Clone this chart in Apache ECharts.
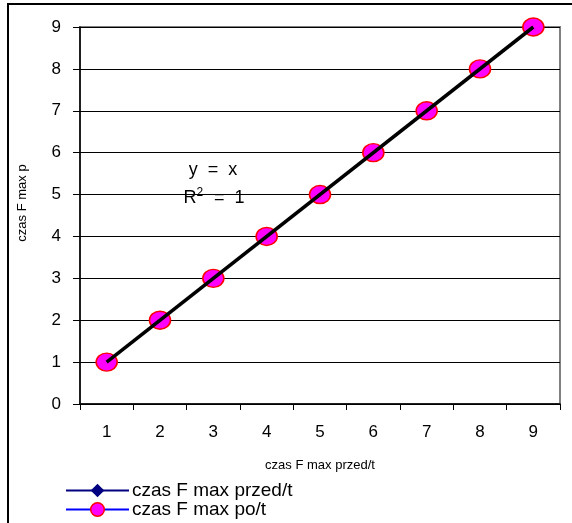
<!DOCTYPE html>
<html>
<head>
<meta charset="utf-8">
<script src="https://cdn.jsdelivr.net/npm/echarts@6/dist/echarts.min.js"></script>
<style>
  html, body { margin: 0; padding: 0; background: #fff; }
  #chart { width: 572px; height: 523px; }
</style>
</head>
<body>
<div id="chart"></div>
<script>
// Category labels on the x axis
const categories = ['1', '2', '3', '4', '5', '6', '7', '8', '9'];
// Measured values
const przedValues = [1, 2, 3, 4, 5, 6, 7, 8, 9];
const poValues = [1, 2, 3, 4, 5, 6, 7, 8, 9];
// Linear trendline y = slope * x + intercept, R^2
const trendSlope = 1;
const trendIntercept = 0;
const trendR2 = 1;

const seriesNames = ['czas F max przed/t', 'czas F max po/t'];
const xAxisTitle = 'czas F max przed/t';
const yAxisTitle = 'czas F max p';

const FONT = 'Arial, "Liberation Sans", sans-serif';

// Trendline endpoints at the first and last category
const trendData = categories.map(function (c, i) {
  const x = Number(c);
  return (i === 0 || i === categories.length - 1) ? trendSlope * x + trendIntercept : null;
});

const chart = echarts.init(document.getElementById('chart'), null, { renderer: 'canvas' });

chart.setOption({
  backgroundColor: '#ffffff',
  animation: false,
  grid: {
    left: 80, right: 12, top: 27, bottom: 119,
    show: true, borderColor: '#808080', borderWidth: 2, backgroundColor: 'transparent'
  },
  xAxis: {
    type: 'category',
    data: categories,
    boundaryGap: true,
    axisLine: { lineStyle: { color: '#000', width: 1.5 } },
    axisTick: { show: true, inside: false, length: 6, alignWithLabel: false, lineStyle: { color: '#000' } },
    axisLabel: { color: '#000', fontFamily: FONT, fontSize: 17, margin: 20 },
    name: xAxisTitle,
    nameLocation: 'middle',
    nameGap: 55,
    nameTextStyle: { color: '#000', fontFamily: FONT, fontSize: 13, verticalAlign: 'top' },
    splitLine: { show: false }
  },
  yAxis: {
    type: 'value',
    min: 0, max: 9, interval: 1,
    axisLine: { show: true, lineStyle: { color: '#000', width: 1.5 } },
    axisTick: { show: true, inside: false, length: 7, lineStyle: { color: '#000' } },
    axisLabel: { color: '#000', fontFamily: FONT, fontSize: 17, margin: 19 },
    splitLine: { show: true, lineStyle: { color: '#000', width: 1 } }
  },
  legend: {
    orient: 'vertical',
    left: 65, top: 481, height: 60,
    padding: 0,
    itemWidth: 63, itemHeight: 17, itemGap: 0,
    textStyle: { color: '#000', fontFamily: FONT, fontSize: 19, lineHeight: 17, padding: [0, 0, 0, -2] },
    data: [
      { name: seriesNames[0],
        itemStyle: { color: '#000080', borderWidth: 0 },
        lineStyle: { color: '#000080', width: 2, opacity: 1 } },
      { name: seriesNames[1],
        itemStyle: { color: '#FF00FF', borderColor: '#FF0000', borderWidth: 1.5 },
        lineStyle: { color: '#0000FF', width: 2, opacity: 1 } }
    ]
  },
  series: [
    {
      name: seriesNames[0],
      type: 'line',
      data: przedValues,
      symbol: 'diamond',
      symbolSize: 12,
      showAllSymbol: true,
      itemStyle: { color: '#000080' },
      lineStyle: { width: 0, opacity: 0 },
      z: 2
    },
    {
      name: seriesNames[1],
      type: 'line',
      data: poValues,
      symbol: 'circle',
      symbolSize: [21, 18],
      showAllSymbol: true,
      itemStyle: { color: '#FF00FF', borderColor: '#FF0000', borderWidth: 1.5 },
      lineStyle: { width: 0, opacity: 0 },
      z: 3
    },
    {
      name: 'trend',
      type: 'line',
      data: trendData,
      connectNulls: true,
      symbol: 'none',
      silent: true,
      lineStyle: { color: '#000', width: 3.5 },
      z: 4
    }
  ],
  graphic: [
    // outer chart frame
    {
      type: 'rect', silent: true, z: 0,
      shape: { x: 8, y: 4, width: 700, height: 700 },
      style: { fill: 'none', stroke: '#000', lineWidth: 2 }
    },
    // y axis title
    {
      type: 'text', silent: true,
      x: 22, y: 203, rotation: Math.PI / 2,
      style: {
        text: yAxisTitle, fill: '#000', font: '13px ' + FONT,
        align: 'center', verticalAlign: 'middle'
      }
    },
    // trendline equation
    {
      type: 'text', silent: true,
      x: 213, y: 170,
      style: {
        text: 'y  =  ' + (trendSlope === 1 ? '' : trendSlope) + 'x' + (trendIntercept ? ' + ' + trendIntercept : ''),
        fill: '#000', font: '18px ' + FONT,
        align: 'center', verticalAlign: 'middle'
      }
    },
    {
      type: 'text', silent: true,
      x: 214, y: 197,
      style: {
        text: '{b|R}{s|2}{b|  =  ' + trendR2 + '}',
        align: 'center', verticalAlign: 'middle',
        rich: {
          b: { fill: '#000', fontSize: 18, fontFamily: FONT, verticalAlign: 'bottom' },
          s: { fill: '#000', fontSize: 12, fontFamily: FONT, verticalAlign: 'top', padding: [0, 1, 8, 0] }
        }
      }
    }
  ]
});
</script>
</body>
</html>
